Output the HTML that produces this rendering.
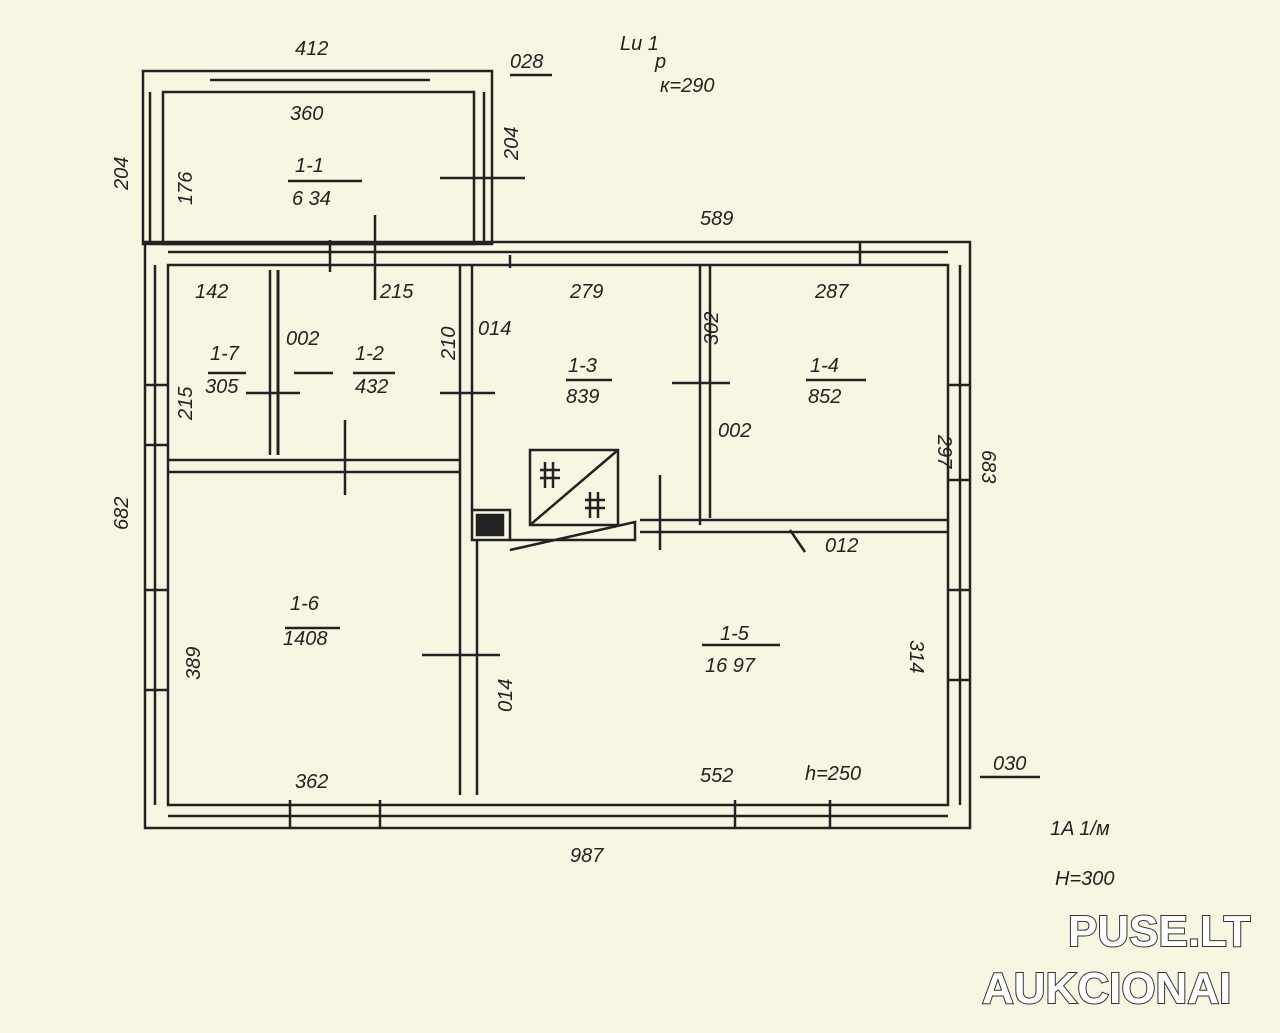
<!DOCTYPE html>
<html><head><meta charset="utf-8"><style>
html,body{margin:0;padding:0;background:#f8f5e2;}
svg{display:block}
text{font-family:"Liberation Sans",sans-serif;font-style:italic;fill:#222;font-size:20px}
.wm{font-family:"Liberation Sans",sans-serif;font-weight:bold;font-style:normal;font-size:44px;fill:#fff;stroke:#333;stroke-width:2;paint-order:stroke}
</style></head><body>
<svg width="1280" height="1033" viewBox="0 0 1280 1033" xmlns="http://www.w3.org/2000/svg">
<rect width="1280" height="1033" fill="#f8f5e2"/>
<g fill="none" stroke="#222" stroke-width="2.5">
<rect x="143" y="71" width="349" height="173"/>
<rect x="163" y="92" width="311" height="152"/>
<line x1="150" y1="92" x2="150" y2="244"/>
<line x1="484" y1="92" x2="484" y2="244"/>
<line x1="210" y1="80" x2="430" y2="80"/>
<rect x="145" y="242" width="825" height="586"/>
<rect x="168" y="265" width="780" height="540"/>
<line x1="155" y1="265" x2="155" y2="805"/>
<line x1="960" y1="265" x2="960" y2="805"/>
<line x1="168" y1="252" x2="948" y2="252"/>
<line x1="168" y1="816" x2="948" y2="816"/>
<line x1="460" y1="265" x2="460" y2="795"/>
<line x1="472" y1="265" x2="472" y2="510"/>
<line x1="477" y1="540" x2="477" y2="795"/>
<line x1="700" y1="265" x2="700" y2="525"/>
<line x1="710" y1="265" x2="710" y2="518"/>
<line x1="168" y1="460" x2="460" y2="460"/>
<line x1="168" y1="472" x2="460" y2="472"/>
<line x1="640" y1="520" x2="948" y2="520"/>
<line x1="640" y1="532" x2="948" y2="532"/>
<line x1="278" y1="270" x2="278" y2="455" stroke-width="3"/>
<line x1="270" y1="270" x2="270" y2="455"/>
<rect x="530" y="450" width="88" height="75"/>
<line x1="530" y1="525" x2="618" y2="450"/>
<rect x="472" y="510" width="38" height="30"/>
<rect x="477" y="515" width="26" height="20" fill="#222"/>
<polyline points="510,540 635,540 635,522 510,550"/>
<line x1="330" y1="240" x2="330" y2="272"/><line x1="375" y1="215" x2="375" y2="300"/>
<line x1="440" y1="178" x2="525" y2="178"/>
<line x1="440" y1="393" x2="495" y2="393"/>
<line x1="672" y1="383" x2="730" y2="383"/>
<line x1="246" y1="393" x2="300" y2="393"/>
<line x1="345" y1="420" x2="345" y2="495"/>
<line x1="422" y1="655" x2="500" y2="655"/>
<line x1="660" y1="475" x2="660" y2="550"/>
<line x1="790" y1="530" x2="805" y2="552"/>
<line x1="290" y1="800" x2="290" y2="828"/><line x1="380" y1="800" x2="380" y2="828"/>
<line x1="735" y1="800" x2="735" y2="828"/><line x1="830" y1="800" x2="830" y2="828"/>
<line x1="145" y1="385" x2="168" y2="385"/><line x1="145" y1="445" x2="168" y2="445"/>
<line x1="145" y1="590" x2="168" y2="590"/><line x1="145" y1="690" x2="168" y2="690"/>
<line x1="948" y1="385" x2="970" y2="385"/><line x1="948" y1="480" x2="970" y2="480"/>
<line x1="948" y1="590" x2="970" y2="590"/><line x1="948" y1="680" x2="970" y2="680"/>
<line x1="510" y1="255" x2="510" y2="268"/><line x1="860" y1="242" x2="860" y2="265"/>
<line x1="510" y1="75" x2="552" y2="75"/>
<line x1="980" y1="777" x2="1040" y2="777"/>
<line x1="288" y1="181" x2="362" y2="181"/>
<line x1="294" y1="373" x2="333" y2="373"/><line x1="208" y1="373" x2="246" y2="373"/>
<line x1="353" y1="373" x2="395" y2="373"/><line x1="566" y1="380" x2="612" y2="380"/>
<line x1="806" y1="380" x2="866" y2="380"/><line x1="285" y1="628" x2="340" y2="628"/>
<line x1="702" y1="645" x2="780" y2="645"/>
<line x1="540" y1="470" x2="560" y2="470"/><line x1="540" y1="478" x2="560" y2="478"/>
<line x1="545" y1="462" x2="545" y2="488"/><line x1="553" y1="462" x2="553" y2="488"/>
<line x1="585" y1="500" x2="605" y2="500"/><line x1="585" y1="508" x2="605" y2="508"/>
<line x1="590" y1="492" x2="590" y2="518"/><line x1="598" y1="492" x2="598" y2="518"/>
</g>
<text x="295" y="55">412</text><text x="510" y="68" font-size="18">028</text>
<text x="620" y="50">Lи 1</text><text x="655" y="68">р</text><text x="660" y="92" font-size="22">к=290</text>
<text x="290" y="120">360</text>
<text x="295" y="172">1-1</text><text x="292" y="205">6 34</text>
<text transform="translate(128,190) rotate(-90)">204</text>
<text transform="translate(192,205) rotate(-90)">176</text>
<text transform="translate(518,160) rotate(-90)">204</text>
<text x="700" y="225">589</text>
<text x="195" y="298" font-size="18">142</text><text x="380" y="298" font-size="18">215</text>
<text x="570" y="298" font-size="18">279</text><text x="815" y="298" font-size="18">287</text>
<text x="286" y="345" font-size="18">002</text><text x="478" y="335" font-size="18">014</text>
<text transform="translate(455,360) rotate(-90)" font-size="18">210</text>
<text transform="translate(718,345) rotate(-90)" font-size="18">302</text>
<text transform="translate(192,420) rotate(-90)" font-size="18">215</text>
<text x="210" y="360" font-size="18">1-7</text><text x="205" y="393" font-size="18">305</text>
<text x="355" y="360" font-size="18">1-2</text><text x="355" y="393" font-size="18">432</text>
<text x="568" y="372" font-size="18">1-3</text><text x="566" y="403" font-size="18">839</text>
<text x="810" y="372" font-size="18">1-4</text><text x="808" y="403" font-size="18">852</text>
<text x="718" y="437" font-size="18">002</text>
<text transform="translate(938,435) rotate(90)" font-size="18">297</text>
<text transform="translate(982,450) rotate(90)">683</text>
<text transform="translate(128,530) rotate(-90)">682</text>
<text x="825" y="552" font-size="18">012</text>
<text x="290" y="610">1-6</text><text x="283" y="645">1408</text>
<text transform="translate(200,680) rotate(-90)">389</text>
<text x="720" y="640">1-5</text><text x="705" y="672">16 97</text>
<text transform="translate(910,640) rotate(90)">314</text>
<text transform="translate(512,712) rotate(-90)" font-size="18">014</text>
<text x="295" y="788">362</text><text x="700" y="782">552</text>
<text x="805" y="780" font-size="22">h=250</text><text x="993" y="770">030</text>
<text x="570" y="862">987</text>
<text x="1050" y="835" font-size="22">1A 1/м</text>
<text x="1055" y="885" font-size="22">H=300</text>
<text class="wm" x="1068" y="946">PUSE.LT</text>
<text class="wm" x="982" y="1003">AUKCIONAI</text>
</svg>
</body></html>
